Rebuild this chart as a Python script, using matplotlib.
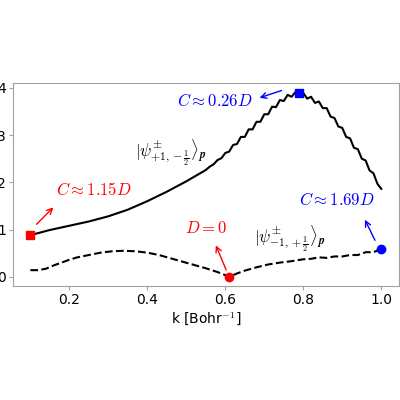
import matplotlib
matplotlib.use("Agg")
import matplotlib.pyplot as plt

plt.rcParams['mathtext.fontset'] = 'cm'

# |psi+_{+1,-1/2}> branch (solid)
k_plus = [0.10, 0.15, 0.20, 0.25, 0.30, 0.35, 0.40, 0.45, 0.50, 0.55,
          0.56, 0.57, 0.58, 0.59, 0.60, 0.61, 0.62, 0.63, 0.64, 0.65,
          0.66, 0.67, 0.68, 0.69, 0.70, 0.71, 0.72, 0.73, 0.74, 0.75,
          0.76, 0.77, 0.78, 0.79, 0.80, 0.81, 0.82, 0.83, 0.84, 0.85,
          0.86, 0.87, 0.88, 0.89, 0.90, 0.91, 0.92, 0.93, 0.94, 0.95,
          0.96, 0.97, 0.98, 0.99, 1.00]
e_plus = [0.88, 0.99, 1.08, 1.17, 1.28, 1.42, 1.60, 1.80, 2.02, 2.26,
          2.33, 2.38, 2.47, 2.51, 2.62, 2.65, 2.79, 2.81, 2.96, 2.96,
          3.12, 3.12, 3.28, 3.28, 3.44, 3.44, 3.60, 3.59, 3.74, 3.72,
          3.85, 3.81, 3.91, 3.83, 3.89, 3.77, 3.81, 3.68, 3.71, 3.57,
          3.57, 3.39, 3.36, 3.18, 3.15, 2.96, 2.93, 2.73, 2.70, 2.50,
          2.46, 2.25, 2.19, 1.97, 1.86]

# |psi+_{-1,+1/2}> branch (dashed)
k_minus = [0.10, 0.12, 0.14, 0.16, 0.18, 0.20, 0.22, 0.25, 0.28, 0.31,
           0.34, 0.37, 0.40, 0.43, 0.46, 0.49, 0.52, 0.55, 0.58, 0.61,
           0.63, 0.65, 0.68, 0.71, 0.74, 0.77, 0.80, 0.82, 0.84, 0.86,
           0.88, 0.90, 0.92, 0.94, 0.96, 0.98, 1.00]
e_minus = [0.14, 0.14, 0.17, 0.24, 0.30, 0.36, 0.41, 0.46, 0.51, 0.54,
           0.55, 0.54, 0.51, 0.46, 0.39, 0.32, 0.25, 0.18, 0.10, 0.00,
           0.07, 0.13, 0.20, 0.26, 0.30, 0.33, 0.37, 0.38, 0.41, 0.40,
           0.43, 0.43, 0.46, 0.46, 0.52, 0.52, 0.59]

# special points
k_red = [0.10, 0.61]
e_red = [0.88, 0.00]
k_blue = [0.79, 1.00]
e_blue = [3.89, 0.59]

fig = plt.figure(figsize=(4, 4), dpi=100)
ax = fig.add_axes([0.032, 0.285, 0.965, 0.508])

ax.plot(k_plus, e_plus, color='black', lw=1.5)
ax.plot(k_minus, e_minus, color='black', lw=1.5, ls='--')

ax.plot(k_red[0], e_red[0], 's', color='red', ms=6)
ax.plot(k_red[1], e_red[1], 'o', color='red', ms=6)
ax.plot(k_blue[0], e_blue[0], 's', color='blue', ms=6)
ax.plot(k_blue[1], e_blue[1], 'o', color='blue', ms=6)

# labels with arrows
arr = dict(arrowstyle='->', lw=1.0)
ax.annotate('', xy=(0.164, 1.51), xytext=(0.111, 1.07), arrowprops=dict(arr, color='red'))
ax.text(0.263, 1.83, r'$C\approx 1.15D$', color='red', fontsize=12, ha='center', va='center')

ax.annotate('', xy=(0.681, 3.77), xytext=(0.751, 3.96), arrowprops=dict(arr, color='blue'))
ax.text(0.573, 3.73, r'$C\approx 0.26D$', color='blue', fontsize=12, ha='center', va='center')

ax.annotate('', xy=(0.573, 0.72), xytext=(0.605, 0.09), arrowprops=dict(arr, color='red'))
ax.text(0.551, 1.03, r'$D=0$', color='red', fontsize=12, ha='center', va='center')

ax.annotate('', xy=(0.955, 1.26), xytext=(0.987, 0.72), arrowprops=dict(arr, color='blue'))
ax.text(0.886, 1.62, r'$C\approx 1.69D$', color='blue', fontsize=12, ha='center', va='center')

ax.text(0.459, 2.63, r'$|\psi^{\pm}_{\mathbf{+1,-}\frac{\mathbf{1}}{\mathbf{2}}}\rangle_{\boldsymbol{p}}$',
        fontsize=12, ha='center', va='center')
ax.text(0.764, 0.80, r'$|\psi^{\pm}_{\mathbf{-1,+}\frac{\mathbf{1}}{\mathbf{2}}}\rangle_{\boldsymbol{p}}$',
        fontsize=12, ha='center', va='center')

ax.set_xlabel(r'k [Bohr$^{-1}$]', fontsize=10, labelpad=2)
ax.set_xticks([0.2, 0.4, 0.6, 0.8, 1.0])
ax.set_yticks([0, 1, 2, 3, 4])
ax.tick_params(labelsize=10, length=3, color='#a0a0a0', pad=2)
for s in ax.spines.values():
    s.set_color('#a0a0a0')

fig.savefig('out.png', dpi=100)
